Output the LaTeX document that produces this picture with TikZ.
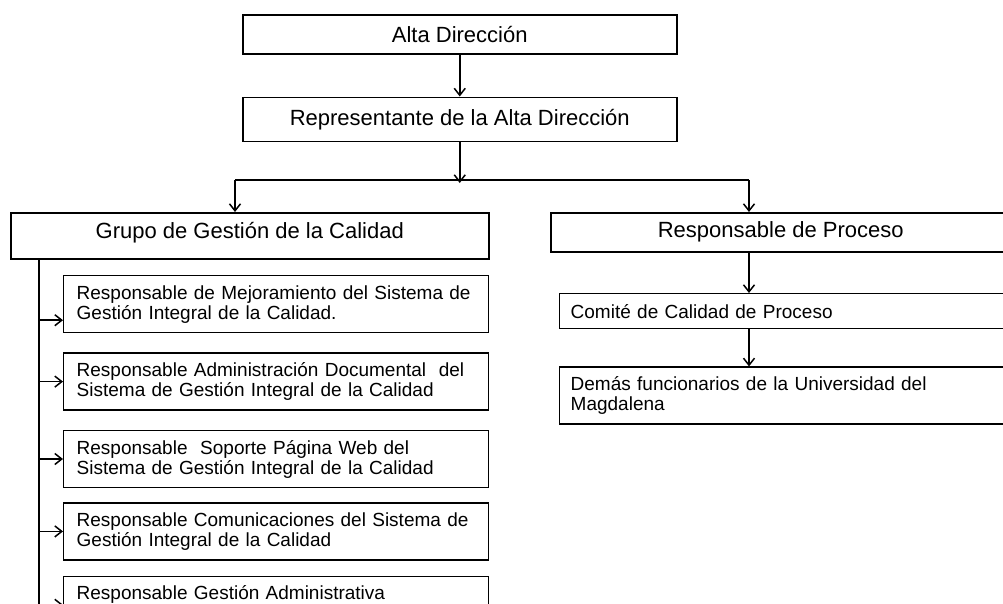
\documentclass[tikz,border=0pt]{standalone}
\usepackage{fontspec}
\setmainfont{Liberation Sans}
\usepackage{tikz}
\usetikzlibrary{arrows.meta, positioning}

\tikzset{
  topbox/.style={draw, line width=1.5pt, inner sep=0pt, minimum width=434pt, font=\fontsize{22}{24}\selectfont},
  headbox/.style={draw, line width=1.5pt, inner sep=0pt, font=\fontsize{22}{24}\selectfont},
  memberbox/.style={draw, line width=1.4pt, inner xsep=13pt, inner ysep=0pt, text width=399pt, minimum height=57pt, align=left, font=\fontsize{19}{20}\selectfont},
  unitbox/.style={draw, line width=1.4pt, inner xsep=11pt, inner ysep=0pt, text width=428pt, align=left, font=\fontsize{19}{20}\selectfont},
}

\begin{document}
\begin{tikzpicture}[x=1pt, y=-1pt, >={Straight Barb[length=7pt, width=11pt]}, line width=1.5pt]
  \useasboundingbox (0,0) rectangle (1003,603);
  \clip (0,0) rectangle (1003,603);

  \node[topbox, minimum height=39pt, anchor=north west] (alta) at (242,14) {Alta Dirección};
  \node[topbox, minimum height=44pt, below=42pt of alta] (rep) {Representante de la Alta Dirección};
  \coordinate[below=41pt of rep] (split);
  \coordinate (gl) at (235,180);
  \coordinate (gr) at (749,180);

  \node[headbox, minimum width=478pt, minimum height=46pt, text height=16pt, text depth=10pt, anchor=north west] (grupo) at (10,212) {Grupo de Gestión de la Calidad};
  \node[headbox, minimum width=460pt, minimum height=39pt, anchor=north west] (proceso) at (550,212) {Responsable de Proceso};

  \node[unitbox, minimum height=35pt, anchor=north west] (comite) at (559,293) {Comité de Calidad de Proceso};
  \node[unitbox, minimum height=57pt, below=37pt of comite.south west, anchor=north west] (demas) {Demás funcionarios de la Universidad del\\Magdalena};

  \node[memberbox, anchor=north west] (m1) at (63,275) {Responsable de Mejoramiento del Sistema de\\Gestión Integral de la Calidad.};
  \node[memberbox, below=19pt of m1.south west, anchor=north west] (m2) {Responsable Administración Documental\ \ del\\Sistema de Gestión Integral de la Calidad};
  \node[memberbox, below=19pt of m2.south west, anchor=north west] (m3) {Responsable\ \ Soporte Página Web del\\Sistema de Gestión Integral de la Calidad};
  \node[memberbox, below=14pt of m3.south west, anchor=north west] (m4) {Responsable Comunicaciones del Sistema de\\Gestión Integral de la Calidad};
  \node[memberbox, text depth=24pt, below=15pt of m4.south west, anchor=north west] (m5) {Responsable Gestión Administrativa};

  \coordinate (spine) at ([xshift=29pt]grupo.south west);
  \coordinate[below=360pt of spine] (spineend);
  \coordinate (m1in) at ([yshift=-16pt]m1.west);

  \draw[->] (alta) -- (rep);
  \draw[->] (rep) -- (split);
  \draw (gl) -- (gr);
  \draw[->] (gl) -- (gl |- grupo.north);
  \draw[->] (gr) -- (gr |- proceso.north);
  \draw[->] (gr |- proceso.south) -- (gr |- comite.north);
  \draw[->] (gr |- comite.south) -- (gr |- demas.north);

  \draw (spine) -- (spineend);
  \draw[->] (spine |- m1in) -- (m1in);
  \foreach \m in {m2,m3,m4,m5}
    \draw[->] (spine |- \m.west) -- (\m.west);
\end{tikzpicture}
\end{document}
